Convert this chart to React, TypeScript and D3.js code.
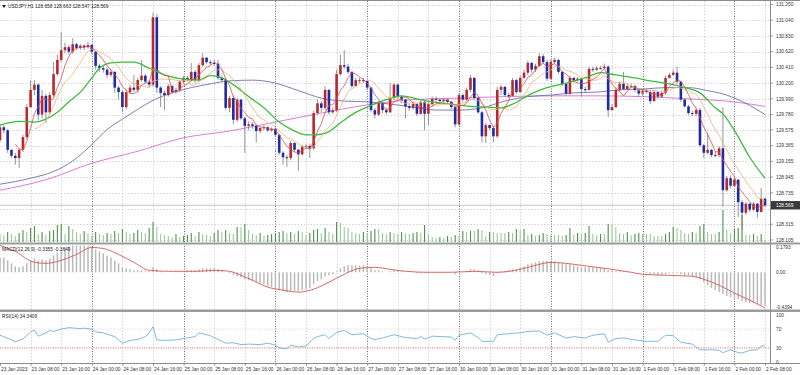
import * as d3 from 'd3'
import React from 'react'

// USDJPY H1, 23 Jan 2023 00:00 .. 2 Feb 2023 08:00 (201 bars)
const headerText = 'USDJPY,H1  128.658 128.663 128.547 128.569'
const macdHeader = 'MACD(12,26,9) -0.3355 -0.3649'
const rsiHeader = 'RSI(14) 34.3409'
const lastPrice = 128.569
const firstOpen = 129.44

const closes = [
  129.61, 129.57, 129.31, 129.23, 129.2, 129.31, 129.48, 129.88, 130.11, 130.18,
  129.78, 130.03, 129.81, 130.04, 130.32, 130.51, 130.64, 130.68, 130.62, 130.72,
  130.67, 130.7, 130.68, 130.71, 130.62, 130.43, 130.4, 130.38, 130.31, 130.35,
  130.14, 130.08, 129.88, 130.08, 130.14, 130.11, 130.24, 130.3, 130.22, 130.18,
  131.08, 130.14, 130.07, 130.04, 130.16, 130.08, 130.11, 130.22, 130.27, 130.24,
  130.35, 130.24, 130.44, 130.54, 130.48, 130.47, 130.46, 130.27, 130.24, 129.87,
  130.0, 129.71, 129.98, 129.73, 129.63, 129.65, 129.63, 129.56, 129.6, 129.61,
  129.57, 129.59, 129.51, 129.27, 129.21, 129.2, 129.4, 129.31, 129.25, 129.35,
  129.36, 129.33, 129.8, 129.93, 129.87, 130.11, 129.81, 129.84, 130.32, 130.44,
  130.42, 130.35, 130.16, 130.24, 130.24, 130.23, 130.14, 129.84, 129.78, 129.93,
  129.84, 129.81, 130.0, 130.18, 130.02, 129.98, 129.89, 129.87, 129.92, 129.79,
  129.95, 129.79, 129.92, 129.99, 129.98, 129.96, 129.98, 129.95, 129.88, 129.65,
  130.04, 129.98, 130.11, 130.27, 130.0, 129.81, 129.49, 129.64, 129.6, 129.49,
  130.11, 130.15, 130.04, 130.03, 130.24, 130.08, 130.27, 130.34, 130.47, 130.38,
  130.43, 130.56, 130.48, 130.26, 130.48, 130.51, 130.35, 130.19, 130.06, 130.27,
  130.24, 130.26, 130.12, 130.11, 130.39, 130.38, 130.4, 130.4, 130.42, 129.84,
  129.88, 130.11, 130.19, 130.12, 130.16, 130.16, 130.11, 130.06, 130.1, 130.08,
  129.96, 130.08, 130.02, 130.07, 130.27, 130.31, 130.34, 130.22, 129.98, 129.89,
  129.8, 129.79, 129.84, 129.37, 129.27, 129.31, 129.24, 129.24, 129.33, 128.77,
  128.93, 128.83, 128.91, 128.61, 128.47, 128.59, 128.51, 128.59, 128.48, 128.658,
  128.569,
]

const highs = [
  129.65, 129.64, 129.59, 129.31, 129.27, 129.33, 129.51, 129.92, 130.24, 130.24,
  130.19, 130.11, 130.06, 130.08, 130.48, 130.58, 130.88, 130.74, 130.71, 130.8,
  130.74, 130.72, 130.72, 130.75, 130.72, 130.63, 130.46, 130.43, 130.4, 130.38,
  130.36, 130.16, 130.11, 130.11, 130.18, 130.31, 130.27, 130.51, 130.32, 130.24,
  131.14, 131.12, 130.16, 130.1, 130.19, 130.18, 130.14, 130.24, 130.3, 130.3,
  130.47, 130.38, 130.47, 130.6, 130.55, 130.51, 130.51, 130.51, 130.3, 130.27,
  130.03, 130.03, 130.0, 129.99, 129.75, 129.69, 129.68, 129.64, 129.61, 129.64,
  129.63, 129.61, 129.6, 129.52, 129.29, 129.24, 129.43, 129.41, 129.32, 129.37,
  129.39, 129.39, 129.83, 129.98, 129.96, 130.16, 130.12, 129.88, 130.38, 130.58,
  130.64, 130.46, 130.36, 130.27, 130.27, 130.27, 130.24, 130.15, 129.87, 129.96,
  129.95, 129.87, 130.2, 130.2, 130.19, 130.03, 129.99, 129.92, 129.95, 129.93,
  129.98, 129.96, 129.95, 130.02, 130.02, 129.99, 130.0, 129.99, 129.96, 129.89,
  130.07, 130.06, 130.14, 130.31, 130.28, 130.02, 129.83, 129.67, 129.65, 129.63,
  130.15, 130.18, 130.16, 130.07, 130.27, 130.26, 130.3, 130.38, 130.5, 130.48,
  130.46, 130.6, 130.59, 130.51, 130.52, 130.54, 130.52, 130.36, 130.2, 130.3,
  130.28, 130.28, 130.27, 130.15, 130.42, 130.42, 130.43, 130.43, 130.46, 130.44,
  129.92, 130.14, 130.22, 130.35, 130.19, 130.19, 130.18, 130.12, 130.12, 130.12,
  130.11, 130.11, 130.1, 130.1, 130.3, 130.34, 130.38, 130.42, 130.23, 129.99,
  129.91, 129.83, 129.87, 129.87, 129.39, 129.53, 129.32, 129.28, 129.36, 129.88,
  128.96, 128.97, 128.93, 128.92, 128.64, 128.61, 128.6, 128.61, 128.6, 128.8,
  128.663,
]

const lows = [
  129.41, 129.53, 129.27, 129.2, 129.11, 129.07, 129.28, 129.45, 129.87, 130.04,
  129.71, 129.73, 129.67, 129.79, 130.02, 130.3, 130.48, 130.6, 130.58, 130.59,
  130.64, 130.64, 130.64, 130.66, 130.59, 130.38, 130.35, 130.34, 130.27, 130.28,
  130.07, 129.98, 129.81, 129.85, 130.06, 130.08, 130.08, 130.22, 130.19, 130.14,
  130.15, 130.07, 129.88, 129.84, 130.02, 130.06, 130.06, 130.08, 130.19, 130.22,
  130.22, 130.2, 130.22, 130.42, 130.46, 130.44, 130.43, 130.24, 130.22, 129.84,
  129.81, 129.65, 129.68, 129.71, 129.27, 129.57, 129.59, 129.41, 129.53, 129.57,
  129.55, 129.55, 129.48, 129.24, 129.11, 129.08, 129.17, 129.28, 129.03, 129.23,
  129.32, 129.2, 129.31, 129.78, 129.81, 129.84, 129.78, 129.79, 129.81, 130.3,
  130.39, 130.32, 130.14, 130.15, 130.2, 130.2, 130.11, 129.81, 129.73, 129.76,
  129.8, 129.78, 129.8, 129.98, 129.99, 129.93, 129.73, 129.83, 129.84, 129.76,
  129.78, 129.57, 129.64, 129.89, 129.95, 129.93, 129.93, 129.92, 129.85, 129.61,
  129.63, 129.95, 129.96, 130.08, 129.98, 129.79, 129.41, 129.4, 129.57, 129.41,
  129.47, 130.04, 130.02, 130.0, 130.02, 130.06, 130.07, 130.26, 130.31, 130.34,
  130.35, 130.42, 130.46, 130.23, 130.24, 130.46, 130.32, 130.16, 130.03, 130.04,
  130.22, 130.22, 130.02, 130.07, 130.1, 130.35, 130.36, 130.38, 130.39, 129.75,
  129.83, 129.87, 130.08, 130.11, 130.11, 130.14, 130.08, 130.03, 130.03, 130.06,
  129.92, 129.95, 129.99, 130.0, 130.04, 130.26, 130.3, 130.19, 129.95, 129.87,
  129.78, 129.76, 129.76, 129.35, 129.2, 129.25, 129.21, 129.21, 129.21, 128.55,
  128.75, 128.8, 128.81, 128.41, 128.24, 128.44, 128.48, 128.49, 128.4, 128.47,
  128.547,
]

const volumes = [
  8, 7, 10, 8, 6, 9, 12, 10, 14, 16,
  8, 10, 7, 11, 12, 17, 18, 8, 16, 13,
  10, 8, 11, 9, 6, 10, 8, 7, 9, 8,
  11, 9, 13, 10, 8, 9, 12, 10, 9, 14,
  20, 15, 8, 7, 6, 5, 8, 5, 6, 7,
  9, 6, 10, 8, 7, 6, 9, 12, 10, 12,
  9, 8, 15, 15, 18, 12, 8, 7, 9, 6,
  7, 8, 9, 10, 11, 9, 10, 8, 11, 10,
  7, 9, 12, 13, 9, 14, 10, 8, 20, 19,
  15, 14, 10, 9, 8, 10, 9, 11, 13, 13,
  9, 8, 10, 9, 8, 10, 9, 8, 9, 10,
  9, 17, 8, 5, 4, 5, 4, 6, 5, 7,
  6, 11, 10, 11, 11, 13, 12, 6, 10, 10,
  9, 9, 9, 10, 9, 13, 12, 13, 7, 8,
  6, 7, 9, 8, 7, 7, 7, 6, 7, 14,
  7, 9, 8, 9, 16, 8, 7, 8, 8, 18,
  18, 15, 9, 8, 10, 7, 8, 9, 8, 8,
  8, 6, 6, 6, 8, 10, 15, 14, 12, 9,
  8, 10, 9, 16, 18, 10, 8, 8, 10, 32,
  12, 9, 13, 14, 27, 7, 7, 8, 6, 8,
  2,
]

const macdHist = [
  0.15, 0.15, 0.12, 0.09, 0.06, 0.05, 0.06, 0.09, 0.12, 0.14,
  0.12, 0.13, 0.12, 0.14, 0.17, 0.2, 0.23, 0.25, 0.26, 0.27,
  0.27, 0.27, 0.27, 0.26, 0.25, 0.23, 0.21, 0.19, 0.17, 0.15,
  0.12, 0.09, 0.05, 0.04, 0.03, 0.02, 0.02, 0.02, 0.01, 0.01,
  0.05, 0.03, 0.01, 0.0, 0.0, 0.0, 0.01, 0.01, 0.01, 0.02,
  0.02, 0.02, 0.03, 0.04, 0.04, 0.04, 0.04, 0.03, 0.02, 0.0,
  -0.01, -0.03, -0.04, -0.05, -0.07, -0.08, -0.09, -0.1, -0.11, -0.12,
  -0.14, -0.15, -0.16, -0.18, -0.19, -0.2, -0.19, -0.19, -0.19, -0.18,
  -0.17, -0.16, -0.12, -0.09, -0.07, -0.04, -0.03, -0.02, 0.01, 0.04,
  0.06, 0.07, 0.07, 0.07, 0.07, 0.07, 0.06, 0.04, 0.02, 0.02,
  0.01, 0.0, 0.01, 0.02, 0.02, 0.01, 0.0, 0.0, 0.0, -0.01,
  -0.01, -0.01, -0.01, 0.0, 0.0, 0.0, 0.0, 0.0, 0.0, -0.02,
  0.0, 0.0, 0.01, 0.03, 0.03, 0.02, -0.01, -0.02, -0.03, -0.04,
  -0.01, 0.01, 0.01, 0.02, 0.03, 0.03, 0.05, 0.06, 0.08, 0.09,
  0.1, 0.11, 0.11, 0.11, 0.11, 0.11, 0.1, 0.09, 0.08, 0.08,
  0.07, 0.06, 0.05, 0.05, 0.05, 0.05, 0.05, 0.05, 0.04, 0.02,
  0.02, 0.01, 0.01, 0.01, 0.0, 0.0, 0.0, 0.0, 0.0, -0.01,
  -0.02, -0.02, -0.03, -0.03, -0.02, -0.01, -0.01, -0.01, -0.02, -0.03,
  -0.03, -0.04, -0.05, -0.07, -0.1, -0.13, -0.16, -0.18, -0.2, -0.22,
  -0.24, -0.25, -0.26, -0.27, -0.29, -0.3, -0.31, -0.31, -0.32, -0.33,
  -0.34,
]

// [bar, value]
const macdSignal = [
  [0, 0.27], [4, 0.21], [9, 0.1], [12, 0.09], [16, 0.12], [20, 0.18], [24, 0.25], [27, 0.24],
  [31, 0.18], [35, 0.1], [39, 0.02], [44, 0.01], [48, 0.01], [52, 0.01], [56, 0.02], [60, 0.01],
  [63, -0.03], [66, -0.08], [70, -0.15], [74, -0.18], [78, -0.2], [82, -0.17], [86, -0.1],
  [90, -0.02], [94, 0.04], [98, 0.05], [102, 0.03], [106, 0.01], [112, 0.0], [118, 0.0],
  [124, 0.01], [130, 0.0], [136, 0.03], [140, 0.07], [144, 0.1], [148, 0.09], [152, 0.07],
  [156, 0.05], [160, 0.03], [165, 0.0], [168, -0.02], [174, -0.03], [181, -0.04], [184, -0.07],
  [188, -0.13], [192, -0.21], [196, -0.28], [199, -0.34], [200, -0.36],
]

const rsiPoints = [
  [0, 57], [3, 47], [4, 43], [6, 49], [8, 64], [9, 68], [10, 55], [12, 62], [13, 67], [14, 65],
  [16, 70], [18, 73], [21, 71], [22, 72], [24, 70], [25, 64], [27, 62], [30, 54], [32, 40],
  [34, 46], [36, 48], [38, 54], [39, 62], [40, 75], [41, 47], [43, 46], [46, 47], [48, 50],
  [51, 54], [52, 62], [55, 56], [57, 48], [59, 40], [61, 41], [63, 37], [65, 38], [68, 37],
  [70, 40], [72, 36], [73, 30], [75, 28], [76, 36], [78, 32], [80, 34], [82, 50], [83, 54],
  [85, 58], [86, 50], [88, 63], [90, 67], [92, 58], [95, 60], [97, 50], [98, 48], [100, 51],
  [103, 58], [106, 52], [109, 50], [110, 54], [111, 49], [113, 55], [118, 53], [119, 46],
  [120, 57], [123, 62], [125, 52], [126, 44], [129, 44], [130, 58], [134, 61], [136, 62],
  [138, 65], [141, 66], [143, 57], [145, 62], [148, 51], [150, 54], [153, 51], [155, 57],
  [158, 60], [159, 42], [161, 50], [163, 51], [166, 47], [169, 44], [172, 44], [174, 57],
  [176, 56], [178, 42], [181, 38], [183, 26], [186, 26], [188, 25], [189, 20], [191, 26],
  [193, 20], [194, 19], [196, 25], [198, 26], [199, 34], [200, 34.34],
]

const greenMA = [
  [0, 129.64], [5, 129.69], [9, 129.68], [12, 129.72], [15, 129.81], [18, 129.95], [21, 130.08],
  [24, 130.27], [26, 130.4], [29, 130.47], [32, 130.48], [35, 130.48], [39, 130.4], [43, 130.31],
  [47, 130.26], [52, 130.24], [55, 130.3], [58, 130.27], [61, 130.18], [65, 130.02], [69, 129.87],
  [73, 129.68], [77, 129.56], [80, 129.51], [82, 129.51], [85, 129.53], [89, 129.67], [92, 129.78],
  [96, 129.88], [101, 129.98], [105, 130.03], [109, 129.99], [113, 129.95], [118, 129.92],
  [123, 129.89], [127, 129.88], [131, 129.87], [134, 129.92], [139, 130.06], [143, 130.14],
  [148, 130.2], [153, 130.27], [157, 130.34], [161, 130.31], [166, 130.27], [170, 130.23],
  [175, 130.19], [179, 130.14], [183, 130.07], [187, 129.87], [189, 129.79], [192, 129.57],
  [196, 129.21], [200, 128.93],
]

const navyMA = [
  [0, 128.85], [8, 128.93], [14, 129.02], [19, 129.16], [24, 129.38], [28, 129.58], [32, 129.72],
  [36, 129.85], [40, 129.97], [45, 130.07], [50, 130.14], [55, 130.19], [60, 130.23], [66, 130.24],
  [72, 130.2], [78, 130.1], [84, 130.0], [90, 129.96], [96, 129.95], [102, 129.92], [108, 129.88],
  [114, 129.84], [120, 129.84], [126, 129.87], [132, 129.96], [138, 130.02], [144, 130.04],
  [150, 130.07], [156, 130.08], [162, 130.11], [168, 130.12], [174, 130.14], [180, 130.14],
  [185, 130.1], [190, 130.04], [195, 129.93], [200, 129.78],
]

const purpleMA = [
  [0, 128.77], [12, 128.91], [24, 129.13], [36, 129.29], [48, 129.47], [60, 129.56], [72, 129.68],
  [84, 129.8], [96, 129.91], [108, 129.98], [120, 130.0], [132, 130.02], [144, 130.03],
  [156, 130.03], [168, 130.02], [180, 129.99], [190, 129.96], [200, 129.89],
]

const priceTicks = [
  '131.250', '131.040', '130.830', '130.620', '130.410', '130.200', '129.990', '129.780',
  '129.575', '129.365', '129.155', '128.945', '128.735', '128.525', '128.315', '128.105',
]

// one label every 8 bars
const timeLabels = [
  '23 Jan 2023', '23 Jan 08:00', '23 Jan 16:00', '24 Jan 00:00', '24 Jan 08:00', '24 Jan 16:00',
  '25 Jan 00:00', '25 Jan 08:00', '25 Jan 16:00', '26 Jan 00:00', '26 Jan 08:00', '26 Jan 16:00',
  '27 Jan 00:00', '27 Jan 08:00', '27 Jan 16:00', '30 Jan 00:00', '30 Jan 08:00', '30 Jan 16:00',
  '31 Jan 00:00', '31 Jan 08:00', '31 Jan 16:00', '1 Feb 00:00', '1 Feb 08:00', '1 Feb 16:00',
  '2 Feb 00:00', '2 Feb 08:00',
]

const macdLabels = [
  { v: 0.275, t: '0.1793' },
  { v: 0, t: '0.00' },
  { v: -0.36, t: '-0.4394' },
]
const rsiLevels = [100, 70, 30, 0]

const FONT = 'Liberation Sans, Arial, sans-serif'
const FS = 4.8
const RIGHT = 770

const sma = (arr, n) =>
  arr.map((_, i) => (i < n - 1 ? null : d3.mean(arr.slice(i - n + 1, i + 1))))

const App = () => {
  const x = d3.scaleLinear().domain([0, 200]).range([0, 765])
  const y = d3.scaleLinear().domain([128.105, 131.25]).range([240, 4.5])
  const yVol = d3.scaleLinear().domain([0, 32]).range([242, 210])
  const yMacd = d3.scaleLinear().domain([-0.36, 0.275]).range([308, 245])
  const yRsi = d3.scaleLinear().domain([0, 100]).range([362, 315])

  const opens = closes.map((c, i) => (i === 0 ? firstOpen : closes[i - 1]))
  const ma5 = sma(closes, 5)
  const ma10 = sma(closes, 10)

  const maLine = d3
    .line()
    .defined((d) => d != null)
    .x((_, i) => x(i))
    .y((d) => y(d))
  const ptLine = d3
    .line()
    .x((d) => x(d[0]))
    .y((d) => y(d[1]))
    .curve(d3.curveMonotoneX)
  const signalLine = d3
    .line()
    .x((d) => x(d[0]))
    .y((d) => yMacd(d[1]))
    .curve(d3.curveMonotoneX)
  const rsiLine = d3
    .line()
    .x((d) => x(d[0]))
    .y((d) => yRsi(d[1]))

  const bw = 2.6
  // the last-price box hides any axis label that falls under it
  const boxY = y(lastPrice)
  const shownTicks = priceTicks.filter((t) => Math.abs(y(+t) - boxY) > 6)

  return (
    <>
      <style>{'body{margin:0;background:#fff;overflow:hidden}'}</style>
      <svg width={800} height={375} style={{ display: 'block', fontFamily: FONT }}>
        <defs>
          <clipPath id="mainClip">
            <rect x={0} y={1} width={RIGHT} height={241} />
          </clipPath>
        </defs>
        <rect x={0} y={0} width={800} height={375} fill="#fff" />

        {/* vertical grid */}
        {timeLabels.map((t, k) => {
          if (k === 0) return null
          const xx = Math.round(x(k * 8)) + 0.5
          const day = t.endsWith('00:00')
          return (
            <line
              key={'vg' + k}
              x1={xx}
              x2={xx}
              y1={1}
              y2={363}
              stroke={day ? '#444' : '#c4c4c4'}
              strokeWidth={day ? 0.8 : 0.7}
              strokeDasharray={day ? '1,1.5' : '1.6,1.6'}
            />
          )
        })}

        {/* horizontal grid */}
        {priceTicks.map((t) => {
          const yy = Math.round(y(+t)) + 0.5
          return (
            <line key={'hg' + t} x1={0} x2={RIGHT} y1={yy} y2={yy} stroke="#c4c4c4" strokeWidth={0.7} strokeDasharray="1.6,1.6" />
          )
        })}

        <g clipPath="url(#mainClip)">
          {/* volumes */}
          {volumes.map((v, i) => (
            <line
              key={'v' + i}
              x1={x(i)}
              x2={x(i)}
              y1={yVol(0)}
              y2={yVol(v)}
              stroke={i > 0 && v > volumes[i - 1] ? '#4f8f4f' : '#9cc99c'}
              strokeWidth={1.1}
            />
          ))}

          {/* bid line */}
          <line x1={0} x2={RIGHT} y1={boxY} y2={boxY} stroke="#b8b8b8" strokeWidth={0.8} />

          {/* long moving averages */}
          <path d={ptLine(purpleMA)} fill="none" stroke="#d46fd4" strokeWidth={0.9} />
          <path d={ptLine(navyMA)} fill="none" stroke="#6f6fad" strokeWidth={0.9} />

          {/* candles */}
          {closes.map((c, i) => {
            const o = opens[i]
            const up = c >= o
            const hi = Math.max(highs[i], o, c)
            const lo = Math.min(lows[i], o, c)
            const top = y(Math.max(o, c))
            const h = Math.max(1, y(Math.min(o, c)) - top)
            return (
              <g key={'c' + i}>
                <line x1={x(i)} x2={x(i)} y1={y(hi)} y2={y(lo)} stroke="#7a7a7a" strokeWidth={0.8} />
                <rect x={x(i) - bw / 2} y={top} width={bw} height={h} fill={up ? '#b8292f' : '#1f2aa6'} />
              </g>
            )
          })}

          <path d={ptLine(greenMA)} fill="none" stroke="#3dbb3d" strokeWidth={1.3} />
          <path d={maLine(ma10)} fill="none" stroke="#e9b274" strokeWidth={0.8} />
          <path d={maLine(ma5)} fill="none" stroke="#d65050" strokeWidth={0.8} />
        </g>

        {/* header */}
        <path d="M2,5 L6,5 L4,8 Z" fill="#222" />
        <text x={8} y={8.2} fontSize={FS} fill="#222">
          {headerText}
        </text>

        {/* MACD */}
        {macdHist.map((v, i) => (
          <line key={'m' + i} x1={x(i)} x2={x(i)} y1={yMacd(0)} y2={yMacd(v)} stroke="#b9b9b9" strokeWidth={1.5} />
        ))}
        <path d={signalLine(macdSignal)} fill="none" stroke="#d25858" strokeWidth={0.9} />
        <text x={2} y={250.5} fontSize={FS} fill="#222">
          {macdHeader}
        </text>

        {/* RSI */}
        {[70, 30].map((lv) => (
          <line
            key={'lv' + lv}
            x1={0}
            x2={RIGHT}
            y1={yRsi(lv)}
            y2={yRsi(lv)}
            stroke={lv === 30 ? '#e05a5a' : '#f0cccc'}
            strokeWidth={0.8}
            strokeDasharray="1.2,1.2"
          />
        ))}
        <path d={rsiLine(rsiPoints)} fill="none" stroke="#5fa7d6" strokeWidth={0.8} />
        <text x={2} y={318} fontSize={FS} fill="#222">
          {rsiHeader}
        </text>

        {/* panel borders */}
        <line x1={0} x2={800} y1={0.5} y2={0.5} stroke="#8c8c8c" strokeWidth={1} />
        <rect x={0} y={242.5} width={800} height={2} fill="#9c9c9c" />
        <rect x={0} y={309.5} width={800} height={2.5} fill="#9c9c9c" />
        <line x1={0} x2={800} y1={363.5} y2={363.5} stroke="#8c8c8c" strokeWidth={1} />
        <line x1={RIGHT + 0.5} x2={RIGHT + 0.5} y1={0} y2={364} stroke="#8c8c8c" strokeWidth={1} />

        {/* price axis */}
        {priceTicks.map((t) => (
          <line key={'ptk' + t} x1={RIGHT} x2={RIGHT + 3} y1={y(+t)} y2={y(+t)} stroke="#666" strokeWidth={0.6} />
        ))}
        {shownTicks.map((t) => (
          <text key={'pt' + t} x={776} y={y(+t)} dy="0.35em" fontSize={FS} fill="#333">
            {t}
          </text>
        ))}
        <rect x={RIGHT + 1} y={boxY - 4.2} width={29} height={8.4} fill="#3a3a3a" />
        <text x={776} y={boxY} dy="0.35em" fontSize={FS} fill="#fff">
          {lastPrice.toFixed(3)}
        </text>

        {/* MACD axis */}
        {macdLabels.map((m) => (
          <text key={'ml' + m.t} x={776} y={yMacd(m.v) + (m.v > 0 ? 2 : m.v < 0 ? -1 : 0)} dy="0.35em" fontSize={FS} fill="#333">
            {m.t}
          </text>
        ))}

        {/* RSI axis */}
        {rsiLevels.map((lv) => (
          <text key={'rl' + lv} x={776} y={yRsi(lv)} dy="0.35em" fontSize={FS} fill="#333">
            {lv}
          </text>
        ))}

        {/* time axis */}
        {timeLabels.map((t, k) => (
          <g key={'tl' + k}>
            <line x1={x(k * 8) + 0.5} x2={x(k * 8) + 0.5} y1={363} y2={366} stroke="#666" strokeWidth={0.6} />
            <text x={x(k * 8) + 1} y={371} fontSize={FS} fill="#333">
              {t}
            </text>
          </g>
        ))}
      </svg>
    </>
  )
}

export default App
